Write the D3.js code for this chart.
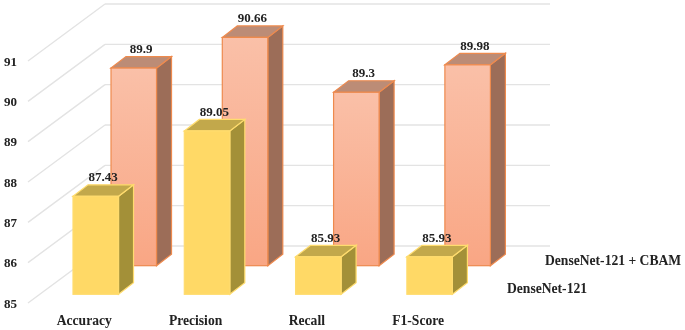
<!DOCTYPE html>
<html>
<head>
<meta charset="utf-8">
<script src="https://cdn.jsdelivr.net/npm/d3@7"></script>
<style>
  html, body { margin: 0; padding: 0; background: #fff; }
  text { font-family: "Liberation Serif", serif; font-weight: bold; fill: #222; font-size: 13px; }
  .series-name, .cat-axis text { font-size: 13.6px; }
</style>
</head>
<body>
<div id="chart"></div>
<script>
// values
const categories = ["Accuracy", "Precision", "Recall", "F1-Score"]
const seriesNames = ["DenseNet-121", "DenseNet-121 + CBAM"]
const densenet = [87.43, 89.05, 85.93, 85.93]
const densenetCbam = [89.9, 90.66, 89.3, 89.98]
const yTicks = [85, 86, 87, 88, 89, 90, 91]

const width = 685, height = 330

const svg = d3.select("#chart").append("svg")
  .attr("width", width)
  .attr("height", height)
  .style("display", "block")

const defs = svg.append("defs")
defs.append("filter").attr("id", "soft")
  .append("feGaussianBlur").attr("stdDeviation", 0.55)

let grad = defs.append("linearGradient").attr("id", "orangeFront")
  .attr("x1", 0).attr("y1", 0).attr("x2", 0).attr("y2", 1)
grad.append("stop").attr("offset", "0%").attr("stop-color", "#fac0a8")
grad.append("stop").attr("offset", "100%").attr("stop-color", "#f9a684")

// front plane of the chart box, the series sit further back from it
let x = d3.scaleBand(categories, [73, 452.4]).paddingInner(0.591).paddingOuter(0)
let y = d3.scaleLinear([85, 91], [303, 61])
let depthX = d3.scalePoint(seriesNames, [0, 38])
let depthY = d3.scalePoint(seriesNames, [-8.7, -37.3])

const wallDx = 77, wallDy = -57, gridRight = 550
const barDx = 15, barDy = -11.5

const styles = {
  "DenseNet-121": { front: "#ffd966", side: "#a39039", top: "#c2a84b", stroke: "#ffdc6e" },
  "DenseNet-121 + CBAM": { front: "url(#orangeFront)", side: "#9c6d58", top: "#bc8c76", stroke: "#ee8a4e" }
}

const g = svg.append("g").attr("filter", "url(#soft)")

// wall lines
let grid = g.append("g")
grid.selectAll(".wall").data(yTicks).join("line")
  .attr("class", "wall")
  .attr("x1", 28).attr("y1", d => y(d))
  .attr("x2", 28 + wallDx).attr("y2", d => y(d) + wallDy)
grid.selectAll(".back").data(yTicks).join("line")
  .attr("class", "back")
  .attr("x1", 28 + wallDx).attr("y1", d => y(d) + wallDy)
  .attr("x2", gridRight).attr("y2", d => y(d) + wallDy)
grid.selectAll("line").attr("stroke", "#e3e3e3").attr("stroke-width", 1.4)

function drawSeries(name, values) {
  let st = styles[name]
  let rows = categories.map((c, i) => ({ cat: c, value: values[i] }))
  let bars = g.append("g").selectAll("g").data(rows).join("g")
    .attr("transform", `translate(${depthX(name)},${depthY(name)})`)
  let w = x.bandwidth()

  // side
  bars.append("path")
    .attr("d", d => {
      let p = d3.path(), l = x(d.cat) + w
      p.moveTo(l, y(d.value))
      p.lineTo(l + barDx, y(d.value) + barDy)
      p.lineTo(l + barDx, y(85) + barDy)
      p.lineTo(l, y(85))
      p.closePath()
      return p.toString()
    })
    .attr("fill", st.side).attr("stroke", st.stroke).attr("stroke-width", 1.2)

  // top
  bars.append("path")
    .attr("d", d => {
      let p = d3.path(), l = x(d.cat)
      p.moveTo(l, y(d.value))
      p.lineTo(l + barDx, y(d.value) + barDy)
      p.lineTo(l + w + barDx, y(d.value) + barDy)
      p.lineTo(l + w, y(d.value))
      p.closePath()
      return p.toString()
    })
    .attr("fill", st.top).attr("stroke", st.stroke).attr("stroke-width", 1.2)

  // front
  bars.append("rect")
    .attr("x", d => x(d.cat))
    .attr("y", d => y(d.value))
    .attr("width", w)
    .attr("height", d => y(85) - y(d.value))
    .attr("fill", st.front).attr("stroke", st.stroke).attr("stroke-width", 1.2)

  return bars
}

let orangeBars = drawSeries(seriesNames[1], densenetCbam)
let yellowBars = drawSeries(seriesNames[0], densenet)

// data labels go above everything
function drawLabels(bars) {
  bars.each(function(d) {
    let t = d3.select(this.parentNode.parentNode)
    t.append("text")
      .attr("transform", d3.select(this).attr("transform"))
      .attr("x", x(d.cat) + 30)
      .attr("y", y(d.value) - 19.5)
      .attr("dy", "0.35em")
      .attr("text-anchor", "middle")
      .text(d.value)
  })
}
drawLabels(orangeBars)
drawLabels(yellowBars)

// axes
let yAxis = d3.axisLeft(y).tickValues(yTicks).tickSize(0).tickPadding(0).tickFormat(d3.format("d"))
let yg = g.append("g").attr("transform", "translate(17,0)").call(yAxis)
yg.select(".domain").remove()

let xAxis = d3.axisBottom(x).tickSize(0).tickPadding(0)
let xg = g.append("g").attr("class", "cat-axis").attr("transform", "translate(-11.5,315)").call(xAxis)
xg.select(".domain").remove()

g.selectAll(".tick text").attr("fill", null)
yg.attr("font-family", null).attr("font-size", null)
xg.attr("font-family", null).attr("font-size", null)

// series names at the end of each row
let names = g.selectAll(".series-name").data(seriesNames).join("text")
  .attr("class", "series-name")
  .attr("x", d => d == seriesNames[0] ? 507 : 545)
  .attr("y", d => d == seriesNames[0] ? 288.5 : 260)
  .attr("dy", "0.35em")
  .text(d => d)
</script>
</body>
</html>
